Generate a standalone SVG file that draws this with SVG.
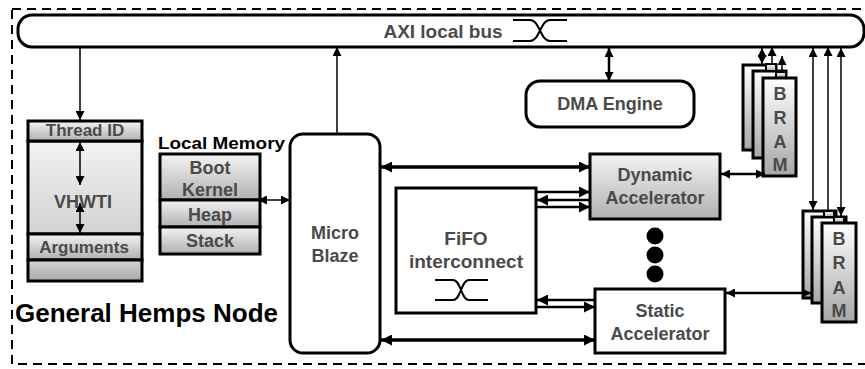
<svg xmlns="http://www.w3.org/2000/svg" width="865" height="369" viewBox="0 0 865 369">
<style>
.lbl{font-family:"Liberation Sans",Arial,sans-serif;font-weight:bold;fill:#4a4a4a;text-anchor:middle}
.blk{font-family:"Liberation Sans",Arial,sans-serif;font-weight:bold;fill:#000}
.box{stroke:#000;stroke-width:3}
.thin{stroke:#000;stroke-width:1.5;fill:none}
.med{stroke:#000;stroke-width:2.5;fill:none}
.thick{stroke:#000;stroke-width:3.5;fill:none}
.sw{stroke:#000;stroke-width:2;fill:none}
</style>
<defs>
<linearGradient id="g1" x1="0" y1="0" x2="0" y2="1"><stop offset="0" stop-color="#f4f4f4"/><stop offset="1" stop-color="#b0b0b0"/></linearGradient>
<linearGradient id="g2" x1="0" y1="0" x2="0" y2="1"><stop offset="0" stop-color="#f2f2f2"/><stop offset="1" stop-color="#d2d2d2"/></linearGradient>
<linearGradient id="g3" x1="0" y1="0" x2="0" y2="1"><stop offset="0" stop-color="#d4d4d4"/><stop offset="1" stop-color="#a8a8a8"/></linearGradient>
<linearGradient id="gb" x1="0" y1="0" x2="0" y2="1"><stop offset="0" stop-color="#ffffff"/><stop offset="1" stop-color="#a6a6a6"/></linearGradient>
<marker id="ah" viewBox="0 0 10 10" refX="10" refY="5" markerWidth="10" markerHeight="9" markerUnits="userSpaceOnUse" orient="auto-start-reverse"><path d="M0,0 L10,5 L0,10 z" fill="#000"/></marker>
<marker id="ahb" viewBox="0 0 10 10" refX="10" refY="5" markerWidth="13" markerHeight="11" markerUnits="userSpaceOnUse" orient="auto-start-reverse"><path d="M0,0 L10,5 L0,10 z" fill="#000"/></marker>
</defs>

<rect x="12" y="9" width="880" height="355" fill="none" stroke="#000" stroke-width="2" stroke-dasharray="9,6"/>
<text class="blk" x="15" y="322" font-size="25" textLength="263" lengthAdjust="spacingAndGlyphs">General Hemps Node</text>

<g id="bus">
<rect x="18" y="15" width="846" height="32" rx="14" fill="#fff" class="box"/>
<text class="lbl" x="443" y="38" font-size="18" textLength="119" lengthAdjust="spacingAndGlyphs">AXI local bus</text>
<path class="sw" d="M513,20 H530 C540,20 540,41 550,41 H567 M513,41 H530 C540,41 540,20 550,20 H567"/>
</g>

<g id="vhwti">
<rect x="28" y="141" width="114" height="93" fill="url(#g2)" class="box"/>
<rect x="28" y="121" width="114" height="20" fill="url(#g1)" class="box"/>
<rect x="28" y="234" width="114" height="26" fill="url(#g1)" class="box"/>
<rect x="28" y="260" width="114" height="21" fill="url(#g3)" class="box"/>
<text class="lbl" x="85" y="136" font-size="17">Thread ID</text>
<text class="lbl" x="83" y="208" font-size="18">VHWTI</text>
<text class="lbl" x="84" y="253" font-size="17">Arguments</text>
</g>

<g id="localmem">
<text class="blk" x="158" y="149" font-size="17" textLength="127" lengthAdjust="spacingAndGlyphs">Local Memory</text>
<rect x="160" y="154" width="100" height="46" fill="url(#g1)" class="box"/>
<rect x="160" y="200" width="100" height="27" fill="url(#g1)" class="box"/>
<rect x="160" y="227" width="100" height="27" fill="url(#g1)" class="box"/>
<text class="lbl" x="210" y="174" font-size="18">Boot</text>
<text class="lbl" x="210" y="196" font-size="18">Kernel</text>
<text class="lbl" x="210" y="221" font-size="18">Heap</text>
<text class="lbl" x="210" y="247" font-size="18">Stack</text>
</g>

<g id="microblaze">
<rect x="290" y="134" width="90" height="219" rx="13" fill="#fff" class="box"/>
<text class="lbl" x="335" y="239" font-size="18">Micro</text>
<text class="lbl" x="335" y="262" font-size="18">Blaze</text>
</g>

<g id="dma">
<rect x="526" y="81" width="168" height="46" rx="14" fill="#fff" class="box"/>
<text class="lbl" x="610" y="110" font-size="18">DMA Engine</text>
</g>

<g id="fifo">
<rect x="396" y="188" width="140" height="125" fill="#fff" class="box"/>
<text class="lbl" x="466" y="245" font-size="19">FiFO</text>
<text class="lbl" x="466" y="268" font-size="19">interconnect</text>
<path class="sw" d="M435,280 H453 C461,280 461,300 469,300 H488 M435,300 H453 C461,300 461,280 469,280 H488"/>
</g>

<g id="dynamic">
<rect x="590" y="154" width="130" height="65" fill="url(#g1)" class="box"/>
<text class="lbl" x="655" y="181" font-size="18">Dynamic</text>
<text class="lbl" x="655" y="204" font-size="18">Accelerator</text>
</g>

<g id="dots">
<circle cx="655" cy="236" r="8.5" fill="#000"/>
<circle cx="655" cy="255" r="8.5" fill="#000"/>
<circle cx="655" cy="274" r="8.5" fill="#000"/>
</g>

<g id="static">
<rect x="595" y="289" width="130" height="64" fill="#fff" class="box"/>
<text class="lbl" x="660" y="317" font-size="18">Static</text>
<text class="lbl" x="660" y="340" font-size="18">Accelerator</text>
</g>

<g id="bram1">
<rect x="743" y="65" width="33" height="85" fill="url(#gb)" class="box"/>
<rect x="753" y="71" width="33" height="87" fill="url(#gb)" class="box"/>
<rect x="766" y="64" width="10" height="7" fill="url(#gb)" stroke="#000" stroke-width="2"/>
<rect x="776" y="72" width="10" height="6" fill="url(#gb)" stroke="#000" stroke-width="2"/>
<rect x="763" y="78" width="33" height="98" fill="url(#gb)" class="box"/>
<text class="lbl" x="780" y="100" font-size="18">B</text>
<text class="lbl" x="780" y="124" font-size="18">R</text>
<text class="lbl" x="780" y="148" font-size="18">A</text>
<text class="lbl" x="780" y="171" font-size="18">M</text>
</g>

<g id="bram2">
<rect x="803" y="211" width="33" height="87" fill="url(#gb)" class="box"/>
<rect x="812" y="217" width="34" height="86" fill="url(#gb)" class="box"/>
<rect x="824" y="211" width="10" height="6" fill="url(#gb)" stroke="#000" stroke-width="2"/>
<rect x="834" y="217" width="10" height="6" fill="url(#gb)" stroke="#000" stroke-width="2"/>
<rect x="822" y="223" width="34" height="99" fill="url(#gb)" class="box"/>
<text class="lbl" x="839" y="245" font-size="18">B</text>
<text class="lbl" x="839" y="269" font-size="18">R</text>
<text class="lbl" x="839" y="294" font-size="18">A</text>
<text class="lbl" x="839" y="317" font-size="18">M</text>
</g>

<g id="connectors">
<line class="thin" x1="80" y1="47" x2="80" y2="120" marker-end="url(#ah)"/>
<line class="thin" x1="80" y1="142" x2="80" y2="185" marker-start="url(#ah)" marker-end="url(#ah)"/>
<line class="thin" x1="80" y1="203" x2="80" y2="233" marker-start="url(#ah)" marker-end="url(#ah)"/>
<line class="thin" x1="258" y1="200" x2="290" y2="200" marker-start="url(#ah)" marker-end="url(#ah)"/>
<line class="thin" x1="337" y1="134" x2="337" y2="47" marker-end="url(#ah)"/>
<line class="med" x1="609" y1="48" x2="609" y2="81" marker-start="url(#ah)" marker-end="url(#ah)"/>
<line class="thick" x1="381" y1="167" x2="590" y2="167" marker-start="url(#ahb)" marker-end="url(#ahb)"/>
<line class="thick" x1="381" y1="340" x2="595" y2="340" marker-start="url(#ahb)" marker-end="url(#ahb)"/>
<line class="med" x1="536" y1="192" x2="590" y2="192" marker-end="url(#ahb)"/>
<line class="med" x1="590" y1="200" x2="537" y2="200" marker-end="url(#ahb)"/>
<line class="med" x1="536" y1="207" x2="590" y2="207" marker-end="url(#ahb)"/>
<line class="med" x1="595" y1="300" x2="537" y2="300" marker-end="url(#ahb)"/>
<line class="med" x1="536" y1="307" x2="595" y2="307" marker-end="url(#ahb)"/>
<line class="med" x1="721" y1="174" x2="765" y2="174" marker-start="url(#ah)" marker-end="url(#ah)"/>
<line class="med" x1="726" y1="293" x2="811" y2="293" marker-start="url(#ah)" marker-end="url(#ah)"/>
<line class="thin" x1="762" y1="48" x2="762" y2="64" marker-start="url(#ah)" marker-end="url(#ah)"/>
<line class="thin" x1="772" y1="64" x2="772" y2="47" marker-end="url(#ah)"/>
<line class="thin" x1="782" y1="72" x2="782" y2="56" marker-end="url(#ah)"/>
<line class="thin" x1="813" y1="48" x2="813" y2="210" marker-start="url(#ah)" marker-end="url(#ah)"/>
<line class="thin" x1="828" y1="211" x2="828" y2="47" marker-end="url(#ah)"/>
<line class="thin" x1="841" y1="48" x2="841" y2="216" marker-start="url(#ah)" marker-end="url(#ah)"/>
</g>
</svg>
